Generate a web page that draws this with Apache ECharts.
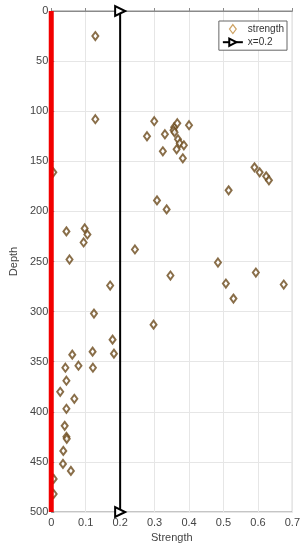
<!DOCTYPE html>
<html><head><meta charset="utf-8">
<script src="https://cdn.jsdelivr.net/npm/echarts@6/dist/echarts.min.js"></script>
<style>html,body{margin:0;padding:0;background:#fff}#c{width:303px;height:550px}</style>
</head><body><div id="c"></div>
<script>
// strength values (x) and depths (y) of the scatter markers
const strength = [0.128,0.128,0.299,0.278,0.330,0.357,0.355,0.358,0.366,0.400,0.368,0.373,0.385,0.364,0.324,0.382,0.590,0.605,0.624,0.632,0.515,0.307,0.335,
  0.044,0.097,0.105,0.094,0.243,0.053,0.484,0.346,0.594,0.171,0.507,0.675,0.529,0.124,0.297,
  0.178,0.182,0.061,0.120,0.079,0.121,0.041,0.044,0.026,0.067,0.044,0.039,0.044,0.045,0.035,0.034,0.057,0.007,0.007,0.006];
const depth = [25,108,110,125,123,116,119,121,112,114,128,132,134,138,140,147,156,161,165,169,179,189,198,
  220,217,223,231,238,248,251,264,261,274,272,273,287,302,313,
  328,342,343,340,354,356,356,369,380,387,397,414,425,427,439,452,459,467,482,161];
const refX = [0.2, 0.2];
const refDepth = [0, 500];
const zeroX = [0, 0];
const zeroDepth = [0, 500];
const xTicks = [0, 0.7, 0.1];
const yTicks = [0, 500, 50];

const font = 'Liberation Sans';
const chart = echarts.init(document.getElementById('c'));
chart.setOption({
  animation: false,
  grid: {left: 36, right: 10, top: 11, bottom: 38, show: true, borderColor: '#8a8a8a', borderWidth: 1},
  xAxis: {type: 'value', min: xTicks[0], max: xTicks[1], interval: xTicks[2],
    name: 'Strength', nameLocation: 'middle', nameGap: 20,
    nameTextStyle: {color: '#444', fontSize: 11, fontFamily: font},
    axisLine: {show: true, lineStyle: {color: '#8a8a8a'}},
    axisTick: {show: true, inside: true, length: 3, lineStyle: {color: '#8a8a8a'}},
    axisLabel: {color: '#444', fontSize: 11, fontFamily: font, margin: 5},
    splitLine: {show: true, lineStyle: {color: '#e6e6e6'}}},
  yAxis: {type: 'value', inverse: true, min: yTicks[0], max: yTicks[1], interval: yTicks[2],
    name: 'Depth', nameLocation: 'middle', nameGap: 23,
    nameTextStyle: {color: '#444', fontSize: 11, fontFamily: font},
    axisLine: {show: true, lineStyle: {color: '#8a8a8a'}},
    axisTick: {show: true, inside: true, length: 3, lineStyle: {color: '#8a8a8a'}},
    axisLabel: {color: '#444', fontSize: 11, fontFamily: font, margin: 3},
    splitLine: {show: true, lineStyle: {color: '#e6e6e6'}}},
  legend: {right: 16, top: 21, orient: 'vertical',
    data: [{name: 'strength', icon: 'path://M0,-4L3,0L0,4L-3,0Z', itemStyle: {color: '#fff', borderColor: '#c08a3a', borderWidth: 1.2}}, {name: 'x=0.2'}],
    symbolKeepAspect: true,
    backgroundColor: '#fff', borderColor: '#666', borderWidth: 1, padding: [3, 3, 3, 3],
    itemGap: 3, itemWidth: 20, itemHeight: 9, textStyle: {color: '#333', fontSize: 10, fontFamily: font}},
  series: [
    {name: 'strength', type: 'scatter', symbol: 'diamond', symbolSize: [6, 8],
      itemStyle: {color: '#fff', borderColor: '#6b4a1c', borderWidth: 2},
      data: strength.map((v, i) => [v, depth[i]]), z: 3},
    {name: 'x=0.2', type: 'line', symbol: 'triangle', symbolRotate: -90, symbolSize: 10, showAllSymbol: true,
      itemStyle: {color: '#fff', borderColor: '#000', borderWidth: 2},
      lineStyle: {color: '#000', width: 2},
      data: refX.map((v, i) => [v, refDepth[i]]), z: 4},
    {name: 'zero', type: 'line', symbol: 'none', lineStyle: {color: '#f20000', width: 5},
      data: zeroX.map((v, i) => [v, zeroDepth[i]]), z: 5}
  ]
});
</script></body></html>
